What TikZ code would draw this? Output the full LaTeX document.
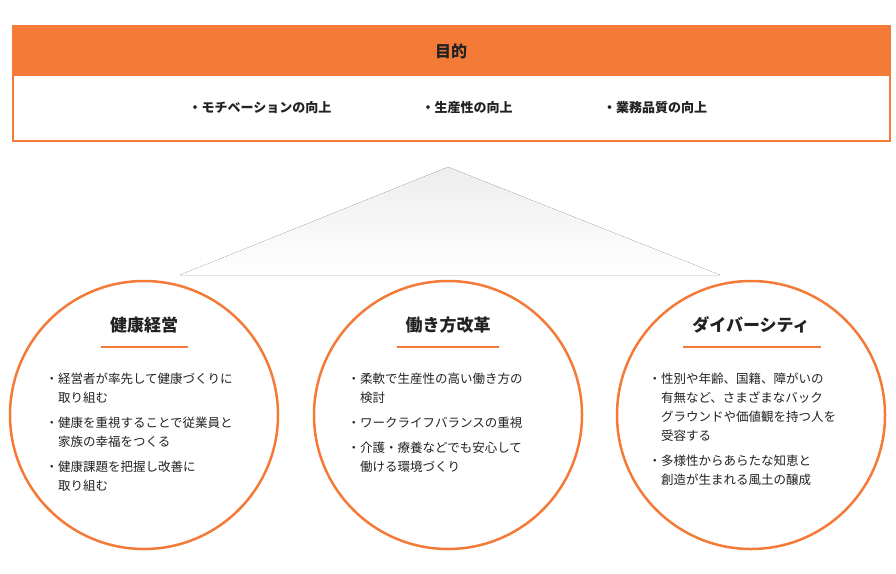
\documentclass[tikz,border=0pt]{standalone}
\usepackage{fontspec}
\setmainfont{Noto Sans CJK JP}
\definecolor{org}{HTML}{F47A38}
\definecolor{txt}{HTML}{222222}
\begin{document}
\begin{tikzpicture}[x=1pt,y=-1pt,
  circ/.style={draw=org,line width=2.5pt,fill=white,circle,minimum size=268pt,inner sep=0pt},
  ttl/.style={font=\fontsize{17}{20}\selectfont\bfseries,text=txt,anchor=center},
  body/.style={font=\fontsize{12.5}{19}\selectfont,text=txt,anchor=north west,align=left},
  itm/.style={font=\fontsize{13}{16}\selectfont\bfseries,text=txt}]
\useasboundingbox (0,0) rectangle (896,573);
\fill[top color=gray!14,bottom color=white] (448,167) -- (720,275) -- (180,275) -- cycle;
\node[draw=org,line width=2pt,fill=white,minimum width=877pt,minimum height=115pt,inner sep=0pt] (box) at (451.5,83.5) {};
\fill[org] (13,26) rectangle (890,76);
\node[ttl,font=\fontsize{16}{20}\selectfont\bfseries] (goal) at (451,51) {目的};
\node[itm] (i1) at (260,108) {・モチベーションの向上};
\node[itm] (i2) at (467,108) {・生産性の向上};
\node[itm] (i3) at (655,108) {・業務品質の向上};
\node[circ] (c1) at (144,415) {};
\node[circ] (c2) at (448,415) {};
\node[circ] (c3) at (751,415) {};
\node[ttl] (t1) at (144,325) {健康経営};
\draw[org,line width=2pt] (101,347) -- (188,347);
\node[ttl] (t2) at (448,325) {働き方改革};
\draw[org,line width=2pt] (397,347) -- (499,347);
\node[ttl] (t3) at (751,325) {ダイバーシティ};
\draw[org,line width=2pt] (683,347) -- (821,347);
\node[body] (b1) at (42,369) {・経営者が率先して健康づくりに\\\hspace{1em}取り組む\\[6pt]・健康を重視することで従業員と\\\hspace{1em}家族の幸福をつくる\\[6pt]・健康課題を把握し改善に\\\hspace{1em}取り組む};
\node[body] (b2) at (344,369) {・柔軟で生産性の高い働き方の\\\hspace{1em}検討\\[6pt]・ワークライフバランスの重視\\[6pt]・介護・療養などでも安心して\\\hspace{1em}働ける環境づくり};
\node[body] (b3) at (645,369) {・性別や年齢、国籍、障がいの\\\hspace{1em}有無など、さまざまなバック\\\hspace{1em}グラウンドや価値観を持つ人を\\\hspace{1em}受容する\\[6pt]・多様性からあらたな知恵と\\\hspace{1em}創造が生まれる風土の醸成};
\end{tikzpicture}
\end{document}
